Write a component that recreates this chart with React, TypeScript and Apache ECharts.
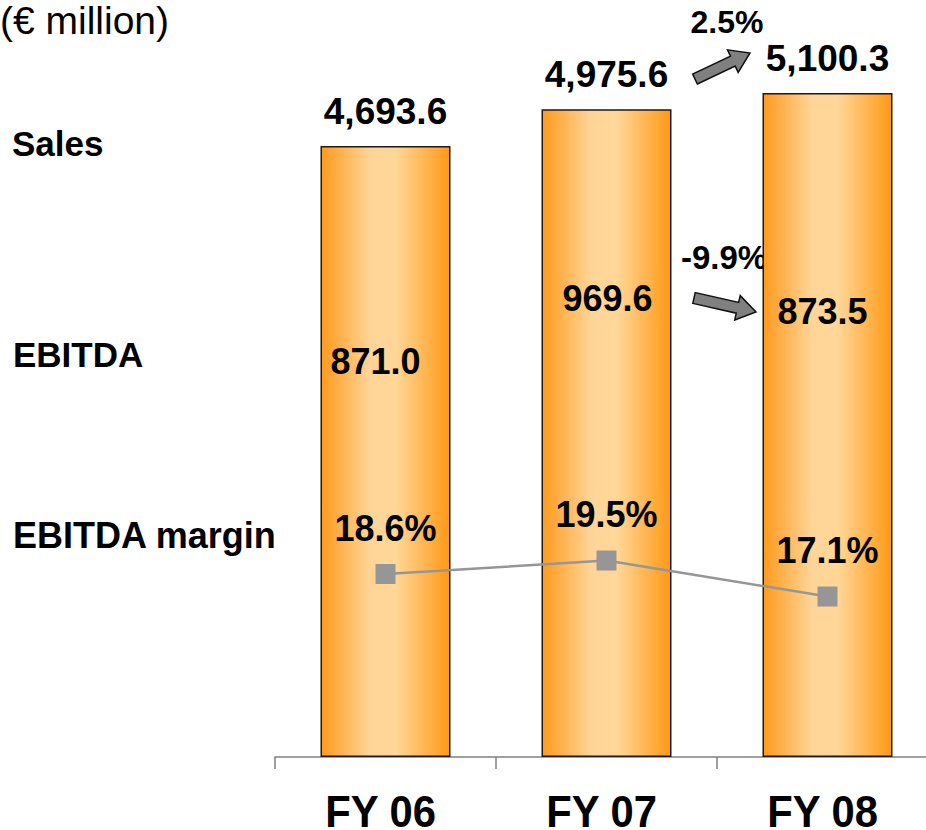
import React, { useEffect, useRef } from "react";
import * as echarts from "echarts";

const categories = ["FY 06", "FY 07", "FY 08"];
const sales = [4693.6, 4975.6, 5100.3];
const ebitda = [871.0, 969.6, 873.5];
const ebitdaMargin = [18.6, 19.5, 17.1];
const growthLabels = ["2.5%", "-9.9%"];

// layout-only offsets (pixel) for EBITDA text labels relative to category centre
const ebitdaLabelOffsetX = [-10, 1, -5];
const ebitdaLabelY = [361, 298, 311];

const FONT = "'Liberation Sans', Arial, Helvetica, sans-serif";

function arrowPoints(x1: number, y1: number, x2: number, y2: number, shaft = 11, headW = 25, headL = 19) {
  const dx = x2 - x1, dy = y2 - y1;
  const len = Math.sqrt(dx * dx + dy * dy);
  const ux = dx / len, uy = dy / len;
  const px = -uy, py = ux;
  const bx = x2 - ux * headL, by = y2 - uy * headL;
  const s = shaft / 2, h = headW / 2;
  return [
    [x1 + px * s, y1 + py * s],
    [bx + px * s, by + py * s],
    [bx + px * h, by + py * h],
    [x2, y2],
    [bx - px * h, by - py * h],
    [bx - px * s, by - py * s],
    [x1 - px * s, y1 - py * s],
  ];
}

export default function App() {
  const ref = useRef<HTMLDivElement>(null);
  useEffect(() => {
    if (!ref.current) return;
    const chart = echarts.init(ref.current, undefined, { renderer: "svg" });
    const barGradient = new echarts.graphic.LinearGradient(0, 0, 1, 0, [
      { offset: 0, color: "#FF9A1E" },
      { offset: 0.38, color: "#FFD597" },
      { offset: 0.58, color: "#FFD797" },
      { offset: 1, color: "#FF9915" },
    ]);
    chart.setOption({
      animation: false,
      backgroundColor: "#ffffff",
      grid: { left: 275, top: 0, width: 663, height: 757 },
      xAxis: {
        type: "category",
        data: categories,
        axisLine: { lineStyle: { color: "#808080", width: 1.5 } },
        axisTick: { show: true, length: 12, lineStyle: { color: "#808080", width: 1.5 } },
        axisLabel: { show: false },
      },
      yAxis: [
        { type: "value", min: 0, max: 5814, show: false },
        { type: "value", min: 6.4, max: 56.87, show: false },
      ],
      series: [
        {
          type: "bar",
          data: sales,
          barWidth: 130,
          itemStyle: { color: barGradient, borderColor: "#1a1a1a", borderWidth: 1.5 },
          label: {
            show: true,
            position: "top",
            distance: 16,
            color: "#000",
            fontFamily: FONT,
            fontWeight: "bold",
            fontSize: 37,
            formatter: (p: any) =>
              Number(p.value).toLocaleString("en-US", { minimumFractionDigits: 1, maximumFractionDigits: 1 }),
          },
        },
        {
          type: "line",
          yAxisIndex: 1,
          data: ebitdaMargin,
          symbol: "rect",
          symbolSize: 20,
          z: 5,
          lineStyle: { color: "#969696", width: 2.5 },
          itemStyle: { color: "#969696" },
          label: {
            show: true,
            position: "top",
            distance: 18,
            color: "#000",
            fontFamily: FONT,
            fontWeight: "bold",
            fontSize: 36,
            formatter: (p: any) => `${Number(p.value).toFixed(1)}%`,
          },
        },
      ],
    });

    const cx = categories.map((c) => chart.convertToPixel({ xAxisIndex: 0 }, c) as number);
    const graphics: any[] = [
      { type: "text", left: 0, top: 1, style: { text: "(€ million)", font: `39px ${FONT}`, fill: "#000" } },
      { type: "text", x: 12, y: 143, style: { text: "Sales", font: `bold 35px ${FONT}`, fill: "#000", verticalAlign: "middle" } },
      { type: "text", x: 13, y: 354, style: { text: "EBITDA", font: `bold 35px ${FONT}`, fill: "#000", verticalAlign: "middle" } },
      { type: "text", x: 13, y: 535, style: { text: "EBITDA margin", font: `bold 36px ${FONT}`, fill: "#000", verticalAlign: "middle" } },
      { type: "text", x: 727, y: 22, style: { text: growthLabels[0], font: `bold 32px ${FONT}`, fill: "#000", align: "center", verticalAlign: "middle" } },
      { type: "text", x: 724, y: 257, style: { text: growthLabels[1], font: `bold 33px ${FONT}`, fill: "#000", align: "center", verticalAlign: "middle" } },
      {
        type: "polygon",
        shape: { points: arrowPoints(695, 79, 750, 53) },
        style: { fill: "#808080", stroke: "#111", lineWidth: 1.5 },
      },
      {
        type: "polygon",
        shape: { points: arrowPoints(694, 298, 756, 312) },
        style: { fill: "#808080", stroke: "#111", lineWidth: 1.5 },
      },
    ];
    ebitda.forEach((v, i) => {
      graphics.push({
        type: "text",
        x: cx[i] + ebitdaLabelOffsetX[i],
        y: ebitdaLabelY[i],
        z: 10,
        style: {
          text: v.toFixed(1),
          font: `bold 36px ${FONT}`,
          fill: "#000",
          align: "center",
          verticalAlign: "middle",
        },
      });
    });
    categories.forEach((c, i) => {
      graphics.push({
        type: "text",
        x: cx[i] - 5,
        y: 812,
        scaleX: 0.95,
        style: {
          text: c,
          font: `bold 44px ${FONT}`,
          lineHeight: 34,
          fill: "#000",
          align: "center",
          verticalAlign: "middle",
        },
      });
    });
    chart.setOption({ graphic: graphics });
    return () => chart.dispose();
  }, []);
  return (
    <div style={{ position: "fixed", left: 0, top: 0, width: 926, height: 830, overflow: "hidden" }}>
      <div ref={ref} style={{ width: 960, height: 830 }} />
    </div>
  );
}
